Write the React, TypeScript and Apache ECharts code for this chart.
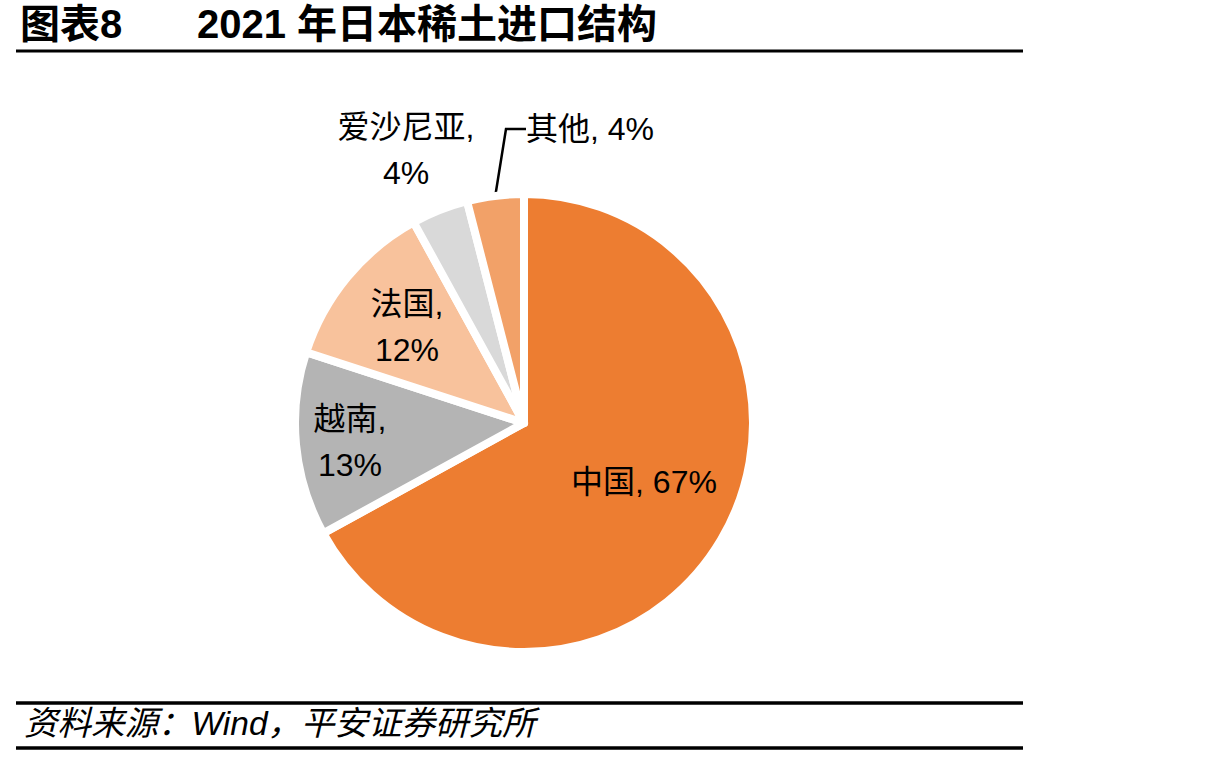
import { useEffect, useRef } from 'react';
import * as echarts from 'echarts';

const countries = ['中国', '越南', '法国', '爱沙尼亚', '其他'];
const shares = [67, 13, 12, 4, 4];
const sliceColors = ['#ED7D31', '#B4B4B4', '#F8C29C', '#D9D9D9', '#F2A168'];

const TITLE_NO = '图表8';
const TITLE = '2021 年日本稀土进口结构';
const SOURCE = '资料来源：Wind，平安证券研究所';

const FONT = '"Liberation Sans", Arial, "Noto Sans CJK SC", sans-serif';

// label placement per slice (centre of text block; 其他 is anchored by its left edge)
const labelSpots = [
  { x: 644, y: 482, align: 'center', twoLines: false },
  { x: 350, y: 442, align: 'center', twoLines: true },
  { x: 407, y: 327, align: 'center', twoLines: true },
  { x: 406, y: 150, align: 'center', twoLines: true },
  { x: 526, y: 129, align: 'left', twoLines: false },
];

export default function App() {
  const ref = useRef<HTMLDivElement>(null);

  useEffect(() => {
    if (!ref.current) return;
    const chart = echarts.init(ref.current, null, { renderer: 'svg' });

    const data = countries.map((name, i) => {
      const spot = labelSpots[i];
      const isOther = name === '其他';
      return {
        name,
        value: shares[i],
        itemStyle: { color: sliceColors[i] },
        label: {
          position: isOther ? 'outside' : 'inside',
          formatter: spot.twoLines ? '{b},\n{c}%' : '{b}, {c}%',
        },
        labelLine: isOther
          ? { show: true, length: 20, length2: 20, lineStyle: { color: '#000', width: 2.5 } }
          : { show: false },
      };
    });

    const option: echarts.EChartsOption = {
      animation: false,
      backgroundColor: '#fff',
      graphic: [
        {
          type: 'text',
          left: 20,
          top: 4,
          style: { text: TITLE_NO, font: `bold 40px ${FONT}`, fill: '#000' },
        },
        {
          type: 'text',
          left: 197,
          top: 4,
          style: { text: TITLE, font: `bold 40px ${FONT}`, fill: '#000' },
        },
        {
          type: 'line',
          shape: { x1: 16, y1: 51, x2: 1023, y2: 51 },
          style: { stroke: '#000', lineWidth: 3 },
        },
        {
          type: 'line',
          shape: { x1: 16, y1: 703, x2: 1023, y2: 703 },
          style: { stroke: '#000', lineWidth: 3.5 },
        },
        {
          type: 'text',
          left: 24,
          top: 707,
          style: { text: SOURCE, font: `italic 33.5px ${FONT}`, fill: '#000' },
        },
        {
          type: 'line',
          shape: { x1: 16, y1: 748, x2: 1023, y2: 748 },
          style: { stroke: '#000', lineWidth: 3.5 },
        },
      ],
      series: [
        {
          type: 'pie',
          center: [524, 423],
          radius: 229,
          startAngle: 90,
          clockwise: true,
          itemStyle: { borderColor: '#fff', borderWidth: 8 },
          label: {
            color: '#000',
            fontSize: 32,
            fontFamily: FONT,
            lineHeight: 46,
          },
          emphasis: { disabled: true },
          labelLayout: (params: any) => {
            const spot = labelSpots[params.dataIndex];
            return { x: spot.x, y: spot.y, align: spot.align, verticalAlign: 'middle' } as any;
          },
          data,
        },
      ],
    };

    chart.setOption(option);
    return () => chart.dispose();
  }, []);

  return (
    <div
      ref={ref}
      style={{ position: 'fixed', left: 0, top: 0, width: 1214, height: 758, background: '#fff' }}
    />
  );
}
